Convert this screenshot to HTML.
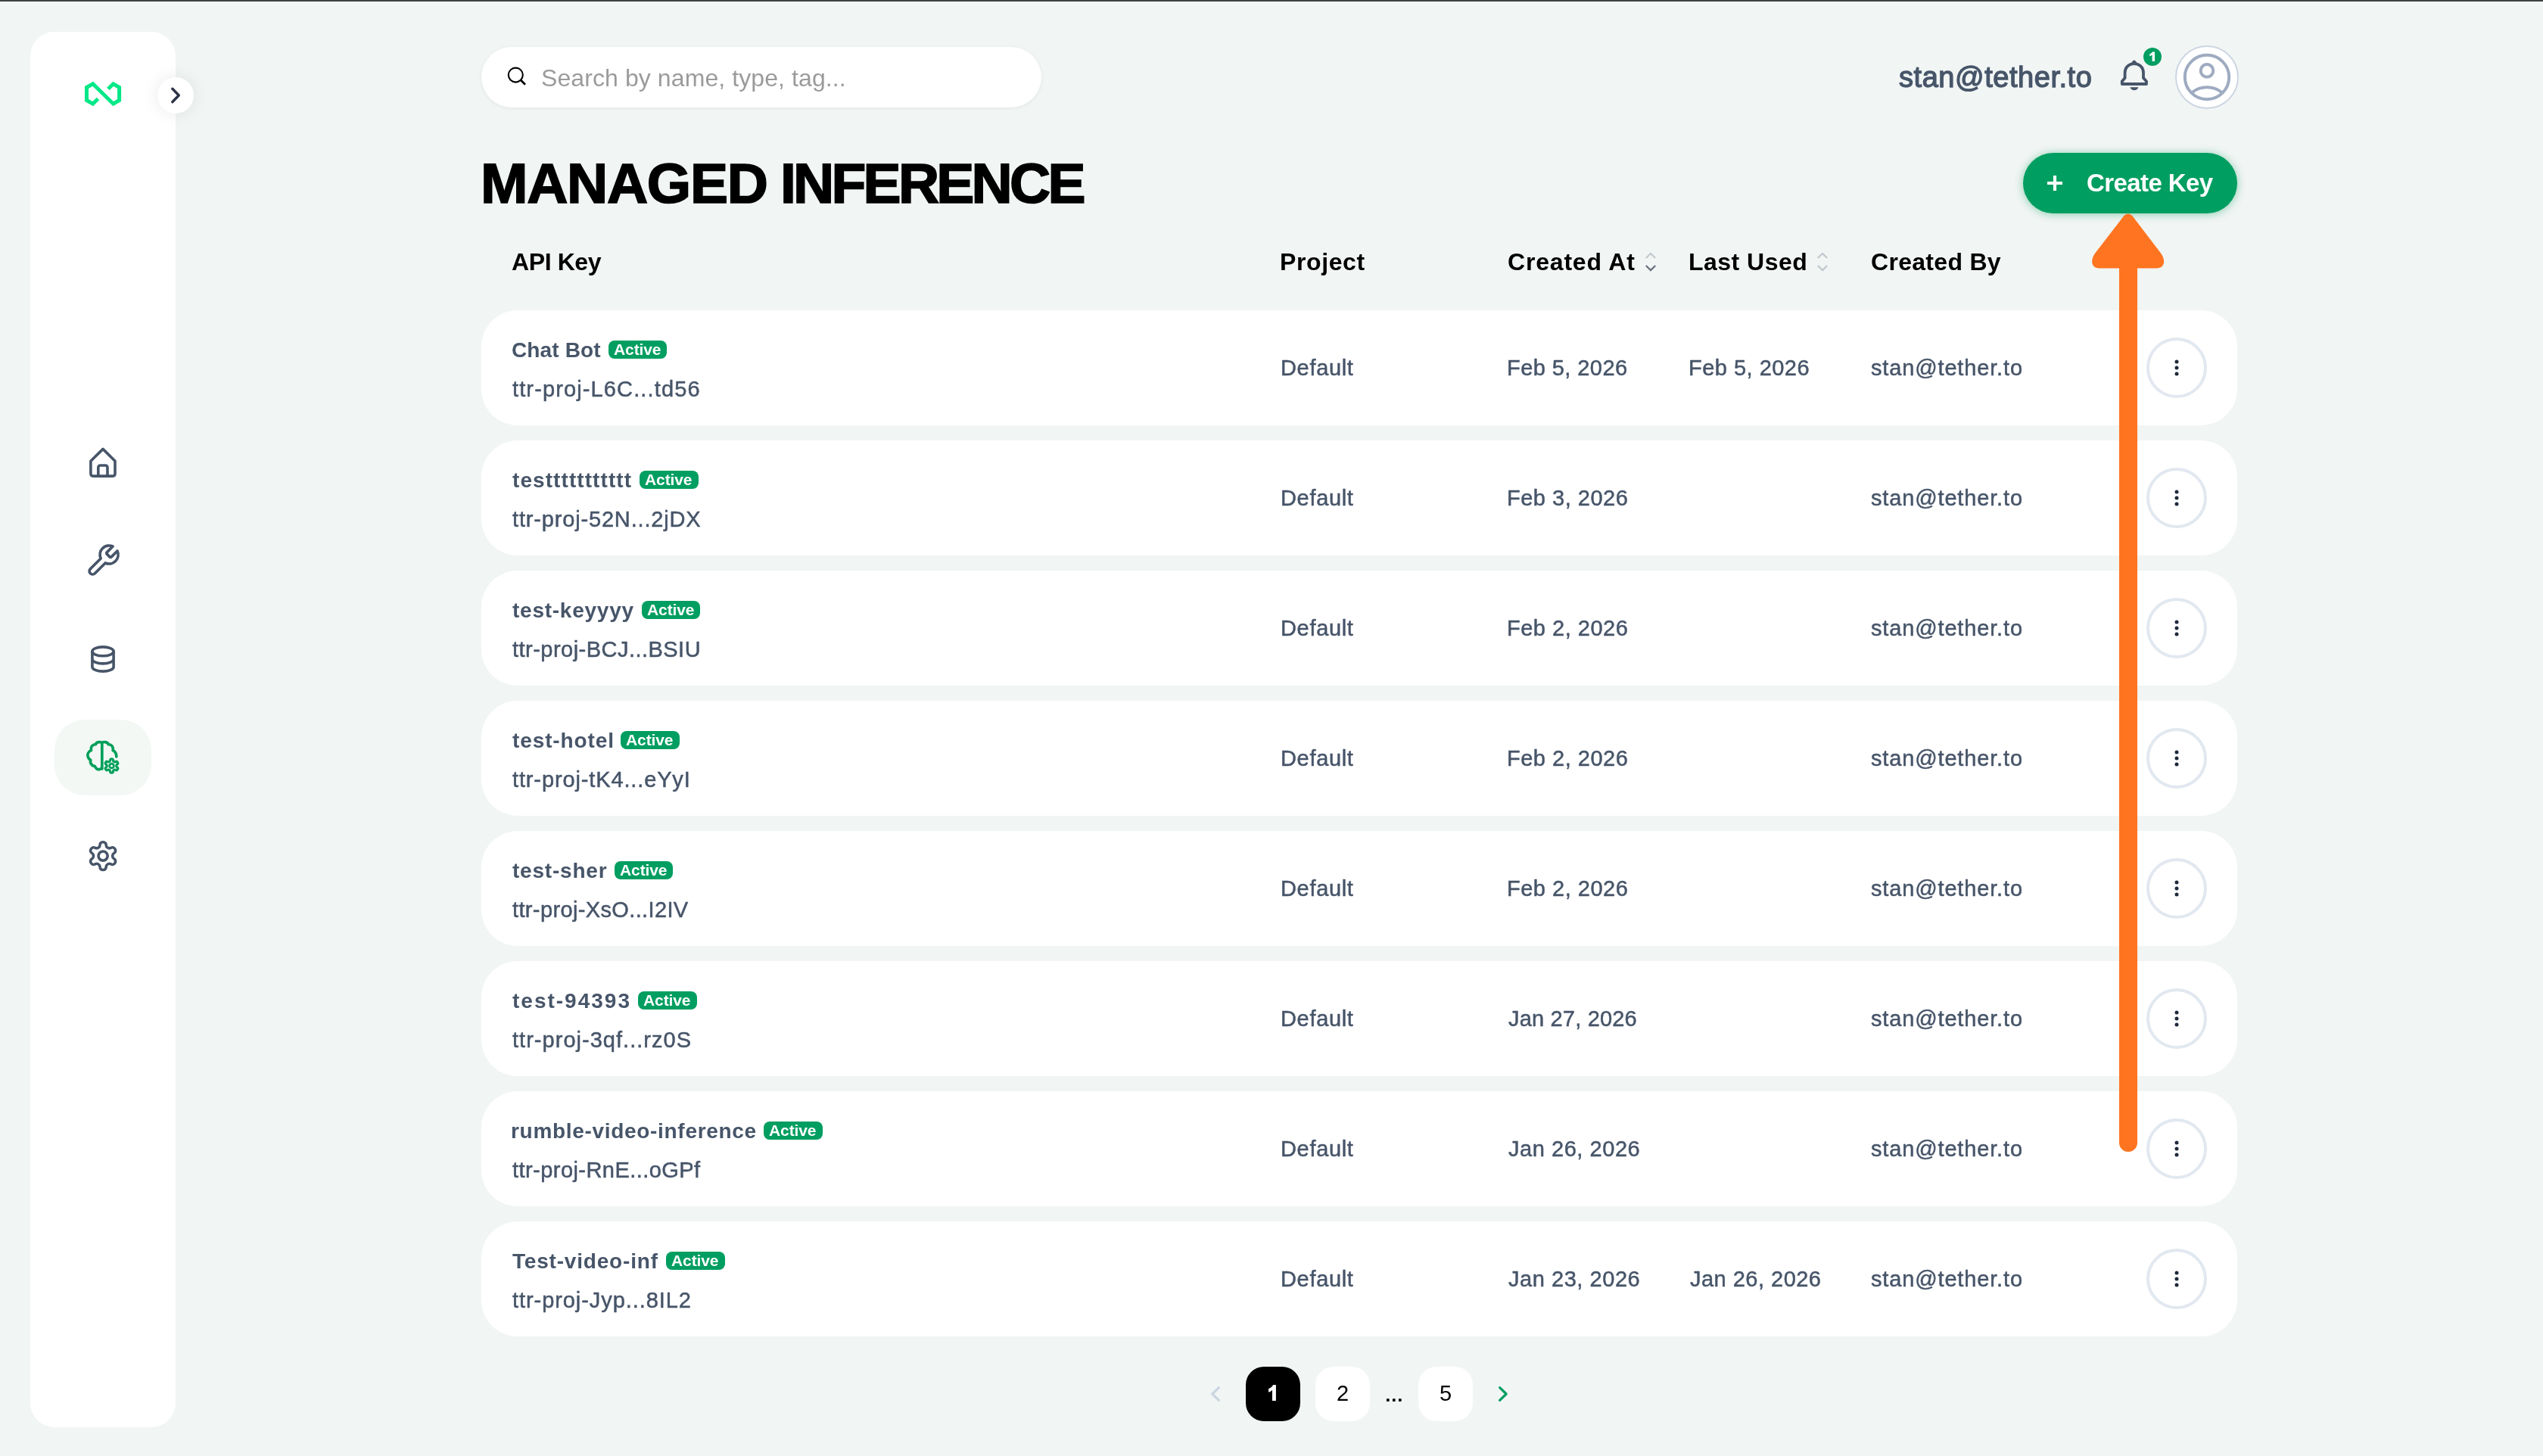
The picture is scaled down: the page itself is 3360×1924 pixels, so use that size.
<!DOCTYPE html>
<html><head><meta charset="utf-8"><title>Managed Inference</title>
<style>
*{margin:0;padding:0;box-sizing:border-box}
html,body{width:3360px;height:1924px;overflow:hidden;background:#f1f5f4;font-family:"Liberation Sans",sans-serif}
@media (min-width:1600px) and (max-width:1760px){html{zoom:0.5}}
.t{position:absolute;white-space:pre;line-height:1;will-change:transform}
.row{position:absolute;left:636px;width:2320px;height:152px;background:#fff;border-radius:48px}
.badge{position:absolute;height:24px;border-radius:8px;background:#009e60}
.dots{position:absolute;left:2836px;width:80px;height:80px;border-radius:50%;border:4px solid #e2e8f0;background:#fff}
</style></head>
<body>
<div style="position:absolute;left:0;top:0;width:3360px;height:1px;background:#414846"></div>
<div style="position:absolute;left:0;top:1px;width:3360px;height:1px;background:#333a38"></div>
<div style="position:absolute;left:0;top:2px;width:3360px;height:1px;background:#fbfdfc"></div>
<!-- sidebar -->
<div style="position:absolute;left:40px;top:42px;width:192px;height:1844px;background:#fff;border-radius:32px"></div>
<div style="position:absolute;left:72px;top:951px;width:128px;height:100px;background:#f3f8f5;border-radius:40px"></div>
<div style="position:absolute;left:208px;top:102px;width:48px;height:48px;border-radius:50%;background:#fff;box-shadow:0 0 22px rgba(0,0,0,0.085)"></div>
<!-- search -->
<div style="position:absolute;left:636px;top:62px;width:740px;height:80px;border-radius:40px;background:#fff;box-shadow:0 1px 5px rgba(0,0,0,0.07)"></div>
<!-- avatar -->
<div style="position:absolute;left:2874px;top:60px;width:84px;height:84px;border-radius:50%;background:#fff;border:2px solid #cdd6e2"></div>
<!-- notif badge -->
<div style="position:absolute;left:2832px;top:63px;width:24px;height:24px;border-radius:50%;background:#009e60"></div>
<!-- create key -->
<div style="position:absolute;left:2673px;top:202px;width:283px;height:80px;border-radius:40px;background:#009e60;box-shadow:0 1px 12px rgba(0,158,90,0.45)"></div>
<!-- rows -->
<div class="row" style="top:410px"></div><div class="badge" style="left:804px;top:450px;width:77.0px"></div><div class="dots" style="top:446px"></div><div class="row" style="top:582px"></div><div class="badge" style="left:845px;top:622px;width:77.9px"></div><div class="dots" style="top:618px"></div><div class="row" style="top:754px"></div><div class="badge" style="left:848px;top:794px;width:77.0px"></div><div class="dots" style="top:790px"></div><div class="row" style="top:926px"></div><div class="badge" style="left:820px;top:966px;width:77.9px"></div><div class="dots" style="top:962px"></div><div class="row" style="top:1098px"></div><div class="badge" style="left:812px;top:1138px;width:76.8px"></div><div class="dots" style="top:1134px"></div><div class="row" style="top:1270px"></div><div class="badge" style="left:843px;top:1310px;width:77.8px"></div><div class="dots" style="top:1306px"></div><div class="row" style="top:1442px"></div><div class="badge" style="left:1009px;top:1482px;width:78.0px"></div><div class="dots" style="top:1478px"></div><div class="row" style="top:1614px"></div><div class="badge" style="left:880px;top:1654px;width:78.0px"></div><div class="dots" style="top:1650px"></div>
<!-- pagination -->
<div style="position:absolute;left:1646px;top:1806px;width:72px;height:72px;border-radius:24px;background:#000"></div>
<div style="position:absolute;left:1738px;top:1806px;width:72px;height:72px;border-radius:24px;background:#fff"></div>
<div style="position:absolute;left:1874px;top:1806px;width:72px;height:72px;border-radius:24px;background:#fff"></div>
<!-- texts -->
<div class="t" style="left:714.6px;top:86.5px;font-size:32px;font-weight:400;color:#9b9b9b;letter-spacing:0.089px;">Search by name, type, tag...</div><div class="t" style="left:2508.6px;top:83.2px;font-size:38px;font-weight:400;color:#475569;letter-spacing:0.546px;-webkit-text-stroke:1.30px #475569;">stan@tether.to</div><div class="t" style="left:635.2px;top:205.3px;font-size:75px;font-weight:700;color:#000;letter-spacing:-1.283px;-webkit-text-stroke:1.70px #000;">MANAGED</div><div class="t" style="left:1030.6px;top:205.3px;font-size:75px;font-weight:700;color:#000;letter-spacing:-3.737px;-webkit-text-stroke:1.70px #000;">INFERENCE</div><div class="t" style="left:2756.7px;top:224.8px;font-size:33px;font-weight:700;color:#fff;letter-spacing:-0.578px;">Create Key</div><div class="t" style="left:675.8px;top:329.8px;font-size:32px;font-weight:700;color:#000;letter-spacing:-0.400px;">API Key</div><div class="t" style="left:1691.4px;top:330.2px;font-size:32px;font-weight:700;color:#000;letter-spacing:0.600px;">Project</div><div class="t" style="left:1992.2px;top:330.2px;font-size:32px;font-weight:700;color:#000;letter-spacing:0.811px;">Created At</div><div class="t" style="left:2231.2px;top:330.2px;font-size:32px;font-weight:700;color:#000;letter-spacing:0.475px;">Last Used</div><div class="t" style="left:2472.3px;top:330.2px;font-size:32px;font-weight:700;color:#000;letter-spacing:0.300px;">Created By</div><div class="t" style="left:676.0px;top:449.0px;font-size:28px;font-weight:700;color:#475569;letter-spacing:0.143px;">Chat Bot</div><div class="t" style="left:677.0px;top:500.0px;font-size:29px;font-weight:400;color:#475569;letter-spacing:1.128px;-webkit-text-stroke:0.50px #475569;">ttr-proj-L6C...td56</div><div class="t" style="left:1692.0px;top:472.0px;font-size:29px;font-weight:400;color:#475569;letter-spacing:0.667px;-webkit-text-stroke:0.50px #475569;">Default</div><div class="t" style="left:1991.0px;top:472.0px;font-size:29px;font-weight:400;color:#475569;letter-spacing:0.430px;-webkit-text-stroke:0.50px #475569;">Feb 5, 2026</div><div class="t" style="left:2231.0px;top:472.0px;font-size:29px;font-weight:400;color:#475569;letter-spacing:0.480px;-webkit-text-stroke:0.50px #475569;">Feb 5, 2026</div><div class="t" style="left:2472.0px;top:472.0px;font-size:29px;font-weight:400;color:#475569;letter-spacing:0.846px;-webkit-text-stroke:0.50px #475569;">stan@tether.to</div><div class="t" style="left:811.3px;top:450.9px;font-size:21px;font-weight:700;color:#fff;letter-spacing:-0.100px;">Active</div><div class="t" style="left:677.0px;top:621.0px;font-size:28px;font-weight:700;color:#475569;letter-spacing:1.077px;">testtttttttttt</div><div class="t" style="left:677.0px;top:672.0px;font-size:29px;font-weight:400;color:#475569;letter-spacing:0.833px;-webkit-text-stroke:0.50px #475569;">ttr-proj-52N...2jDX</div><div class="t" style="left:1692.0px;top:644.0px;font-size:29px;font-weight:400;color:#475569;letter-spacing:0.667px;-webkit-text-stroke:0.50px #475569;">Default</div><div class="t" style="left:1991.0px;top:644.0px;font-size:29px;font-weight:400;color:#475569;letter-spacing:0.500px;-webkit-text-stroke:0.50px #475569;">Feb 3, 2026</div><div class="t" style="left:2472.0px;top:644.0px;font-size:29px;font-weight:400;color:#475569;letter-spacing:0.846px;-webkit-text-stroke:0.50px #475569;">stan@tether.to</div><div class="t" style="left:852.3px;top:622.9px;font-size:21px;font-weight:700;color:#fff;letter-spacing:-0.100px;">Active</div><div class="t" style="left:677.0px;top:793.0px;font-size:28px;font-weight:700;color:#475569;letter-spacing:0.750px;">test-keyyyy</div><div class="t" style="left:677.0px;top:844.0px;font-size:29px;font-weight:400;color:#475569;letter-spacing:0.472px;-webkit-text-stroke:0.50px #475569;">ttr-proj-BCJ...BSIU</div><div class="t" style="left:1692.0px;top:816.0px;font-size:29px;font-weight:400;color:#475569;letter-spacing:0.667px;-webkit-text-stroke:0.50px #475569;">Default</div><div class="t" style="left:1991.0px;top:816.0px;font-size:29px;font-weight:400;color:#475569;letter-spacing:0.500px;-webkit-text-stroke:0.50px #475569;">Feb 2, 2026</div><div class="t" style="left:2472.0px;top:816.0px;font-size:29px;font-weight:400;color:#475569;letter-spacing:0.846px;-webkit-text-stroke:0.50px #475569;">stan@tether.to</div><div class="t" style="left:855.3px;top:794.9px;font-size:21px;font-weight:700;color:#fff;letter-spacing:-0.100px;">Active</div><div class="t" style="left:677.0px;top:965.0px;font-size:28px;font-weight:700;color:#475569;letter-spacing:0.889px;">test-hotel</div><div class="t" style="left:677.0px;top:1016.0px;font-size:29px;font-weight:400;color:#475569;letter-spacing:0.867px;-webkit-text-stroke:0.50px #475569;">ttr-proj-tK4...eYyI</div><div class="t" style="left:1692.0px;top:988.0px;font-size:29px;font-weight:400;color:#475569;letter-spacing:0.667px;-webkit-text-stroke:0.50px #475569;">Default</div><div class="t" style="left:1991.0px;top:988.0px;font-size:29px;font-weight:400;color:#475569;letter-spacing:0.500px;-webkit-text-stroke:0.50px #475569;">Feb 2, 2026</div><div class="t" style="left:2472.0px;top:988.0px;font-size:29px;font-weight:400;color:#475569;letter-spacing:0.846px;-webkit-text-stroke:0.50px #475569;">stan@tether.to</div><div class="t" style="left:827.3px;top:966.9px;font-size:21px;font-weight:700;color:#fff;letter-spacing:-0.100px;">Active</div><div class="t" style="left:677.0px;top:1137.0px;font-size:28px;font-weight:700;color:#475569;letter-spacing:0.787px;">test-sher</div><div class="t" style="left:677.0px;top:1188.0px;font-size:29px;font-weight:400;color:#475569;letter-spacing:0.367px;-webkit-text-stroke:0.50px #475569;">ttr-proj-XsO...I2IV</div><div class="t" style="left:1692.0px;top:1160.0px;font-size:29px;font-weight:400;color:#475569;letter-spacing:0.667px;-webkit-text-stroke:0.50px #475569;">Default</div><div class="t" style="left:1991.0px;top:1160.0px;font-size:29px;font-weight:400;color:#475569;letter-spacing:0.500px;-webkit-text-stroke:0.50px #475569;">Feb 2, 2026</div><div class="t" style="left:2472.0px;top:1160.0px;font-size:29px;font-weight:400;color:#475569;letter-spacing:0.846px;-webkit-text-stroke:0.50px #475569;">stan@tether.to</div><div class="t" style="left:819.3px;top:1138.9px;font-size:21px;font-weight:700;color:#fff;letter-spacing:-0.100px;">Active</div><div class="t" style="left:677.0px;top:1309.0px;font-size:28px;font-weight:700;color:#475569;letter-spacing:2.000px;">test-94393</div><div class="t" style="left:677.0px;top:1360.0px;font-size:29px;font-weight:400;color:#475569;letter-spacing:1.028px;-webkit-text-stroke:0.50px #475569;">ttr-proj-3qf...rz0S</div><div class="t" style="left:1692.0px;top:1332.0px;font-size:29px;font-weight:400;color:#475569;letter-spacing:0.667px;-webkit-text-stroke:0.50px #475569;">Default</div><div class="t" style="left:1993.0px;top:1332.0px;font-size:29px;font-weight:400;color:#475569;letter-spacing:0.182px;-webkit-text-stroke:0.50px #475569;">Jan 27, 2026</div><div class="t" style="left:2472.0px;top:1332.0px;font-size:29px;font-weight:400;color:#475569;letter-spacing:0.846px;-webkit-text-stroke:0.50px #475569;">stan@tether.to</div><div class="t" style="left:850.3px;top:1310.9px;font-size:21px;font-weight:700;color:#fff;letter-spacing:-0.100px;">Active</div><div class="t" style="left:675.0px;top:1481.0px;font-size:28px;font-weight:700;color:#475569;letter-spacing:0.690px;">rumble-video-inference</div><div class="t" style="left:677.0px;top:1532.0px;font-size:29px;font-weight:400;color:#475569;letter-spacing:0.444px;-webkit-text-stroke:0.50px #475569;">ttr-proj-RnE...oGPf</div><div class="t" style="left:1692.0px;top:1504.0px;font-size:29px;font-weight:400;color:#475569;letter-spacing:0.667px;-webkit-text-stroke:0.50px #475569;">Default</div><div class="t" style="left:1993.0px;top:1504.0px;font-size:29px;font-weight:400;color:#475569;letter-spacing:0.545px;-webkit-text-stroke:0.50px #475569;">Jan 26, 2026</div><div class="t" style="left:2472.0px;top:1504.0px;font-size:29px;font-weight:400;color:#475569;letter-spacing:0.846px;-webkit-text-stroke:0.50px #475569;">stan@tether.to</div><div class="t" style="left:1016.3px;top:1482.9px;font-size:21px;font-weight:700;color:#fff;letter-spacing:-0.100px;">Active</div><div class="t" style="left:677.0px;top:1653.0px;font-size:28px;font-weight:700;color:#475569;letter-spacing:0.808px;">Test-video-inf</div><div class="t" style="left:677.0px;top:1704.0px;font-size:29px;font-weight:400;color:#475569;letter-spacing:0.928px;-webkit-text-stroke:0.50px #475569;">ttr-proj-Jyp...8IL2</div><div class="t" style="left:1692.0px;top:1676.0px;font-size:29px;font-weight:400;color:#475569;letter-spacing:0.667px;-webkit-text-stroke:0.50px #475569;">Default</div><div class="t" style="left:1993.0px;top:1676.0px;font-size:29px;font-weight:400;color:#475569;letter-spacing:0.545px;-webkit-text-stroke:0.50px #475569;">Jan 23, 2026</div><div class="t" style="left:2233.0px;top:1676.0px;font-size:29px;font-weight:400;color:#475569;letter-spacing:0.482px;-webkit-text-stroke:0.50px #475569;">Jan 26, 2026</div><div class="t" style="left:2472.0px;top:1676.0px;font-size:29px;font-weight:400;color:#475569;letter-spacing:0.846px;-webkit-text-stroke:0.50px #475569;">stan@tether.to</div><div class="t" style="left:887.3px;top:1654.9px;font-size:21px;font-weight:700;color:#fff;letter-spacing:-0.100px;">Active</div><div class="t" style="left:1765.5px;top:1826.9px;font-size:29px;font-weight:400;color:#000;letter-spacing:0.000px;">2</div><div class="t" style="left:1902.0px;top:1826.9px;font-size:29px;font-weight:400;color:#000;letter-spacing:0.000px;">5</div>
<svg style="position:absolute;left:0;top:0" width="3360" height="1924" viewBox="0 0 3360 1924">
<path d="M227.8 117.3 L236.3 126 L227.8 134.7" fill="none" stroke="#2b3245" stroke-width="3.4" stroke-linecap="round" stroke-linejoin="round"/><g fill="none" stroke="#00e887" stroke-width="5" stroke-linejoin="miter"><path d="M129.5 130.5 L122.7 137.2 L114.5 132.5 L114.5 115.5 L122.7 110.8 L149.7 137.2 L157.6 132.5 L157.6 115.5 L149.7 110.8 L142.9 117.5"/></g><g fill="none" stroke="#000"><circle cx="681.3" cy="99.1" r="9.5" stroke-width="2.1"/><path d="M688.2 106 L694 111.8" stroke-width="2.7"/></g><g fill="none" stroke="#475569" stroke-width="3.8" stroke-linejoin="round"><path d="M819.7 0"/><path d="M2807.6 103 L2807.6 96 C2807.6 89 2813 84.2 2819.8 84.2 C2826.6 84.2 2832 89 2832 96 L2832 103 L2836 107.5 L2836 111 L2803.8 111 L2803.8 107.5 Z"/></g><path d="M2816 84 Q2816.6 80.6 2819.8 79.2 Q2823 80.6 2823.6 84 Z" fill="#475569"/><path d="M2814.4 115.2 L2825.4 115.2 C2824.5 118 2822.5 119.2 2819.9 119.2 C2817.3 119.2 2815.3 118 2814.4 115.2 Z" fill="#475569"/><g fill="none" stroke="#9eabc0" stroke-width="4"><circle cx="2916" cy="102" r="29.2"/><circle cx="2916" cy="93.4" r="8.3"/><path d="M2896.5 122 C2908 113 2924 113 2935.5 122"/></g><g stroke="#fff" stroke-width="4.2"><path d="M2705 242 L2725 242 M2715 232 L2715 252"/></g><path d="M2174.8 341 L2181 335 L2187.2 341" fill="none" stroke="#c3c8ce" stroke-width="2.2"/><path d="M2174.8 351 L2181 357 L2187.2 351" fill="none" stroke="#6b7280" stroke-width="2.4"/><path d="M2401.8 341 L2408 335 L2414.2 341" fill="none" stroke="#c3c8ce" stroke-width="2.2"/><path d="M2401.8 351 L2408 357 L2414.2 351" fill="none" stroke="#c3c8ce" stroke-width="2.4"/><path fill="none" stroke="#475569" stroke-width="3.6" stroke-linecap="round" stroke-linejoin="round" d="M119.9 609.3 L136 593.4 L152 609.3 L152 626.1 Q152 629.1 149 629.1 L122.9 629.1 Q119.9 629.1 119.9 626.1 Z M129.8 629.1 L129.8 618 Q129.8 615 132.8 615 L139 615 Q142 615 142 618 L142 629.1"/><g transform="translate(112.1 717) scale(2)"><path fill="none" stroke="#475569" stroke-width="1.85" stroke-linecap="round" stroke-linejoin="round" d="M14.7 6.3a1 1 0 0 0 0 1.4l1.6 1.6a1 1 0 0 0 1.4 0l3.77-3.77a6 6 0 0 1-7.94 7.94l-6.91 6.91a2.12 2.12 0 0 1-3-3l6.91-6.91a6 6 0 0 1 7.94-7.94l-3.76 3.76z"/></g><g fill="none" stroke="#475569" stroke-width="3.6" stroke-linecap="round" stroke-linejoin="round"><ellipse cx="136" cy="860.85" rx="14.1" ry="5.95"/><path d="M121.9 860.85 L121.9 881.15 A14.1 5.95 0 0 0 150.1 881.15 L150.1 860.85 M121.9 870.9 A14.1 5.95 0 0 0 150.1 870.9"/></g><g transform="translate(114.1 1109.1) scale(1.8333)"><path fill="none" stroke="#475569" stroke-width="1.96" stroke-linecap="round" stroke-linejoin="round" d="M12.22 2h-.44a2 2 0 0 0-2 2v.18a2 2 0 0 1-1 1.73l-.43.25a2 2 0 0 1-2 0l-.15-.08a2 2 0 0 0-2.73.73l-.22.38a2 2 0 0 0 .73 2.73l.15.1a2 2 0 0 1 1 1.72v.51a2 2 0 0 1-1 1.74l-.15.09a2 2 0 0 0-.73 2.73l.22.38a2 2 0 0 0 2.73.73l.15-.08a2 2 0 0 1 2 0l.43.25a2 2 0 0 1 1 1.73V20a2 2 0 0 0 2 2h.44a2 2 0 0 0 2-2v-.18a2 2 0 0 1 1-1.73l.43-.25a2 2 0 0 1 2 0l.15.08a2 2 0 0 0 2.73-.73l.22-.39a2 2 0 0 0-.73-2.73l-.15-.08a2 2 0 0 1-1-1.74v-.5a2 2 0 0 1 1-1.74l.15-.09a2 2 0 0 0 .73-2.73l-.22-.38a2 2 0 0 0-2.73-.73l-.15.08a2 2 0 0 1-2 0l-.43-.25a2 2 0 0 1-1-1.73V4a2 2 0 0 0-2-2z"/><circle cx="12" cy="12" r="3.3" fill="none" stroke="#475569" stroke-width="1.96"/></g><path d="M134.8 982.5 C134.4 980.6 132.5 980.3 130.6 980.6 C128.4 980.9 126.8 982.0 126.6 983.6 C122.6 983.6 119.6 986.4 120.4 991.6 C116.6 993.2 115.2 996.8 116.2 1000.0 C116.8 1002.4 118.6 1003.8 119.8 1004.4 C118.6 1007.8 120.8 1012.0 125.4 1012.6 C126.6 1015.6 128.4 1016.8 130.2 1016.8 C132.6 1016.8 134.8 1015.4 134.8 1013.0 Z M134.8 982.5 L134.8 1016.0 M134.8 982.5 C135.2 980.6 137.1 980.3 139.0 980.6 C141.2 980.9 142.8 982.0 143.0 983.6 C147.0 983.6 150.0 986.4 149.2 991.6 C152.2 993.0 153.8 996.6 153.8 999.8" fill="none" stroke="#00a05a" stroke-width="3.7" stroke-linecap="round" stroke-linejoin="round"/><g transform="translate(136.58 1001.08) scale(0.91)"><path fill="#f3f8f5" stroke="#00a05a" stroke-width="3.5" stroke-linecap="round" stroke-linejoin="round" d="M12.22 2h-.44a2 2 0 0 0-2 2v.18a2 2 0 0 1-1 1.73l-.43.25a2 2 0 0 1-2 0l-.15-.08a2 2 0 0 0-2.73.73l-.22.38a2 2 0 0 0 .73 2.73l.15.1a2 2 0 0 1 1 1.72v.51a2 2 0 0 1-1 1.74l-.15.09a2 2 0 0 0-.73 2.73l.22.38a2 2 0 0 0 2.73.73l.15-.08a2 2 0 0 1 2 0l.43.25a2 2 0 0 1 1 1.73V20a2 2 0 0 0 2 2h.44a2 2 0 0 0 2-2v-.18a2 2 0 0 1 1-1.73l.43-.25a2 2 0 0 1 2 0l.15.08a2 2 0 0 0 2.73-.73l.22-.39a2 2 0 0 0-.73-2.73l-.15-.08a2 2 0 0 1-1-1.74v-.5a2 2 0 0 1 1-1.74l.15-.09a2 2 0 0 0 .73-2.73l-.22-.38a2 2 0 0 0-2.73-.73l-.15.08a2 2 0 0 1-2 0l-.43-.25a2 2 0 0 1-1-1.73V4a2 2 0 0 0-2-2z"/><circle cx="12" cy="12" r="3.2" fill="none" stroke="#00a05a" stroke-width="3"/></g><circle cx="2876" cy="477.9" r="2.5" fill="#1e293b"/><circle cx="2876" cy="486.0" r="2.5" fill="#1e293b"/><circle cx="2876" cy="494.1" r="2.5" fill="#1e293b"/><circle cx="2876" cy="649.9" r="2.5" fill="#1e293b"/><circle cx="2876" cy="658.0" r="2.5" fill="#1e293b"/><circle cx="2876" cy="666.1" r="2.5" fill="#1e293b"/><circle cx="2876" cy="821.9" r="2.5" fill="#1e293b"/><circle cx="2876" cy="830.0" r="2.5" fill="#1e293b"/><circle cx="2876" cy="838.1" r="2.5" fill="#1e293b"/><circle cx="2876" cy="993.9" r="2.5" fill="#1e293b"/><circle cx="2876" cy="1002.0" r="2.5" fill="#1e293b"/><circle cx="2876" cy="1010.1" r="2.5" fill="#1e293b"/><circle cx="2876" cy="1165.9" r="2.5" fill="#1e293b"/><circle cx="2876" cy="1174.0" r="2.5" fill="#1e293b"/><circle cx="2876" cy="1182.1" r="2.5" fill="#1e293b"/><circle cx="2876" cy="1337.9" r="2.5" fill="#1e293b"/><circle cx="2876" cy="1346.0" r="2.5" fill="#1e293b"/><circle cx="2876" cy="1354.1" r="2.5" fill="#1e293b"/><circle cx="2876" cy="1509.9" r="2.5" fill="#1e293b"/><circle cx="2876" cy="1518.0" r="2.5" fill="#1e293b"/><circle cx="2876" cy="1526.1" r="2.5" fill="#1e293b"/><circle cx="2876" cy="1681.9" r="2.5" fill="#1e293b"/><circle cx="2876" cy="1690.0" r="2.5" fill="#1e293b"/><circle cx="2876" cy="1698.1" r="2.5" fill="#1e293b"/><path d="M1610.4 1833.6 L1601.8 1842 L1610.4 1850.4" fill="none" stroke="#cbd5e1" stroke-width="3.2" stroke-linecap="round" stroke-linejoin="round"/><path d="M1981.6 1833.6 L1990.2 1842 L1981.6 1850.4" fill="none" stroke="#009e60" stroke-width="3.2" stroke-linecap="round" stroke-linejoin="round"/><rect x="1832" y="1848.3" width="3.6" height="3.6" fill="#000"/><rect x="1840" y="1848.3" width="3.6" height="3.6" fill="#000"/><rect x="1848" y="1848.3" width="3.6" height="3.6" fill="#000"/><path d="M1681 1850.9 L1685.9 1850.9 L1685.9 1830 L1682 1830 Q1680.5 1833.5 1676.1 1835.1 L1676.1 1839.8 Q1679 1839.3 1681 1837 Z" fill="#fff"/><path d="M2843.6 81 L2847 81 L2847 68.4 L2844 68.4 Q2843 70.6 2840.3 71.4 L2840.3 74.2 Q2842.2 73.8 2843.6 72.6 Z" fill="#fff"/><path d="M2811.8 282.6 Q2808.2 282.6 2806 285.6 L2768.3 334.6 C2761.8 343 2762.5 354.5 2774 354.5 L2800 354.5 L2800 1510 A12 12 0 0 0 2824 1510 L2824 354.5 L2849.3 354.5 C2860.8 354.5 2861.5 343 2855 334.6 L2817.6 285.6 Q2815.4 282.6 2811.8 282.6 Z" fill="#ff7420"/>
</svg>
</body></html>
